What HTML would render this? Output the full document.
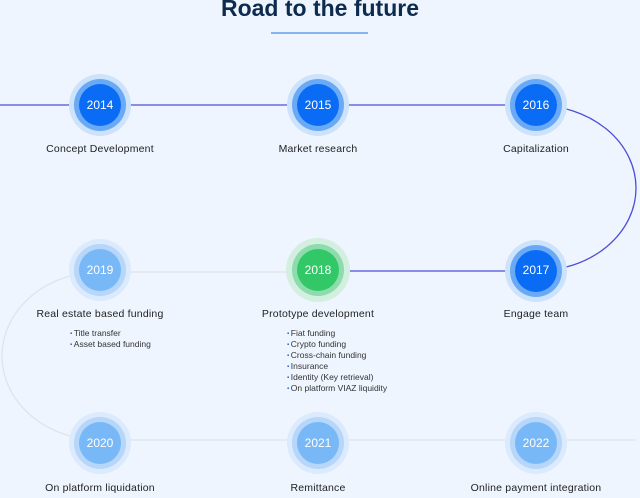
<!DOCTYPE html>
<html><head><style>
body{margin:0;width:640px;height:498px;background:#eef5fe;font-family:"Liberation Sans",sans-serif;position:relative;overflow:hidden}
.t{position:absolute;left:0;width:640px;text-align:center;top:-5px;font-size:23px;font-weight:bold;color:#0d2b4e}
.lbl{position:absolute;width:200px;text-align:center;font-size:10.5px;color:#222;letter-spacing:0.2px}
.yr{position:absolute;width:60px;text-align:center;font-size:12px;color:#fff}
ul{position:absolute;margin:0;padding:0;list-style:none;font-size:8.5px;color:#333;line-height:11px}
ul li{height:11px}
ul li:before{content:"▪ ";color:#1a5fd0;font-size:6px;vertical-align:1px}
</style></head><body>
<div class="t">Road to the future</div>
<svg width="640" height="498" style="position:absolute;left:0;top:0">
<line x1="271" y1="33" x2="368" y2="33" stroke="#4a8de8" stroke-width="1.2"/>
<path d="M0 105 H536 A100 83 0 0 1 536 271 H318" fill="none" stroke="#4e4fd6" stroke-width="1.3"/>
<path d="M318 272 H100 A98 84 0 0 0 100 440 H636" fill="none" stroke="#dde4ec" stroke-width="1.3"/>
<g>
<ellipse cx="100" cy="105" rx="31" ry="31" fill="#cde3fb"/>
<circle cx="100" cy="105" r="26" fill="#6aa9f5"/>
<circle cx="100" cy="105" r="21" fill="#0a6cf4"/>
<ellipse cx="318" cy="105" rx="31" ry="31" fill="#cde3fb"/>
<circle cx="318" cy="105" r="26" fill="#6aa9f5"/>
<circle cx="318" cy="105" r="21" fill="#0a6cf4"/>
<ellipse cx="536" cy="105" rx="31" ry="31" fill="#cde3fb"/>
<circle cx="536" cy="105" r="26" fill="#6aa9f5"/>
<circle cx="536" cy="105" r="21" fill="#0a6cf4"/>
<ellipse cx="536" cy="271" rx="31" ry="31" fill="#cde3fb"/>
<circle cx="536" cy="271" r="26" fill="#6aa9f5"/>
<circle cx="536" cy="271" r="21" fill="#0a6cf4"/>
<circle cx="318" cy="270" r="32" fill="#d3efe0"/>
<circle cx="318" cy="270" r="26" fill="#8ddcad"/>
<circle cx="318" cy="270" r="21" fill="#33c867"/>
<circle cx="100" cy="270" r="31" fill="#dbeafc"/>
<circle cx="100" cy="270" r="26" fill="#b6d6fa"/>
<circle cx="100" cy="270" r="21" fill="#78b8f7"/>
<circle cx="100" cy="443" r="31" fill="#dbeafc"/>
<circle cx="100" cy="443" r="26" fill="#b6d6fa"/>
<circle cx="100" cy="443" r="21" fill="#78b8f7"/>
<circle cx="318" cy="443" r="31" fill="#dbeafc"/>
<circle cx="318" cy="443" r="26" fill="#b6d6fa"/>
<circle cx="318" cy="443" r="21" fill="#78b8f7"/>
<circle cx="536" cy="443" r="31" fill="#dbeafc"/>
<circle cx="536" cy="443" r="26" fill="#b6d6fa"/>
<circle cx="536" cy="443" r="21" fill="#78b8f7"/>
</g>
</svg>
<div class="yr" style="left:70px;top:98px">2014</div>
<div class="yr" style="left:288px;top:98px">2015</div>
<div class="yr" style="left:506px;top:98px">2016</div>
<div class="yr" style="left:506px;top:263px">2017</div>
<div class="yr" style="left:288px;top:263px">2018</div>
<div class="yr" style="left:70px;top:263px">2019</div>
<div class="yr" style="left:70px;top:436px">2020</div>
<div class="yr" style="left:288px;top:436px">2021</div>
<div class="yr" style="left:506px;top:436px">2022</div>
<div class="lbl" style="left:0;top:143px">Concept Development</div>
<div class="lbl" style="left:218px;top:143px">Market research</div>
<div class="lbl" style="left:436px;top:143px">Capitalization</div>
<div class="lbl" style="left:0;top:308px">Real estate based funding</div>
<div class="lbl" style="left:218px;top:308px">Prototype development</div>
<div class="lbl" style="left:436px;top:308px">Engage team</div>
<div class="lbl" style="left:0;top:482px">On platform liquidation</div>
<div class="lbl" style="left:218px;top:482px">Remittance</div>
<div class="lbl" style="left:436px;top:482px">Online payment integration</div>
<ul style="left:70px;top:328px"><li>Title transfer</li><li>Asset based funding</li></ul>
<ul style="left:287px;top:328px"><li>Fiat funding</li><li>Crypto funding</li><li>Cross-chain funding</li><li>Insurance</li><li>Identity (Key retrieval)</li><li>On platform VIAZ liquidity</li></ul>
</body></html>
